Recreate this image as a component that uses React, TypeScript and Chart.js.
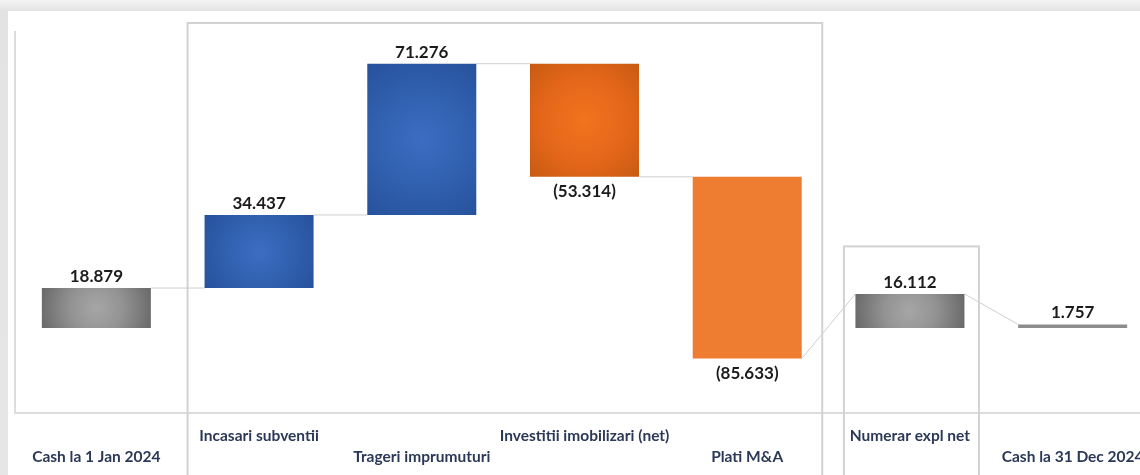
import React, { useEffect, useRef } from 'react';
import { Chart, registerables } from 'chart.js';

Chart.register(...registerables);

// ---- data ----
const categories = [
  'Cash la 1 Jan 2024',
  'Incasari subventii',
  'Trageri imprumuturi',
  'Investitii imobilizari (net)',
  'Plati M&A',
  'Numerar expl net',
  'Cash la 31 Dec 2024',
];
const values = [18.879, 34.437, 71.276, -53.314, -85.633, 16.112, 1.757];
const valueLabels = ['18.879', '34.437', '71.276', '(53.314)', '(85.633)', '16.112', '1.757'];
const barKinds = ['total', 'up', 'up', 'down', 'down', 'net', 'total'];
const yMin = -40;
const yMax = 140;

// ---- styles ----
const barStyles = ['gray', 'blue', 'blue', 'orangeGrad', 'orangeFlat', 'gray', 'grayLine'];
const flatColors: Record<string, string> = {
  gray: '#8a8a8a',
  blue: '#2f5dab',
  orangeGrad: '#e06a1c',
  orangeFlat: '#ee7d31',
  grayLine: '#8c8c8c',
};
const gradStops: Record<string, [number, string][]> = {
  gray: [[0, '#a6a6a6'], [0.45, '#939393'], [1, '#686868']],
  blue: [[0, '#3c6dc2'], [0.55, '#305fae'], [1, '#27519b']],
  orangeGrad: [[0, '#f2741e'], [0.55, '#e4661a'], [1, '#c65b12']],
};
const CAT_PCT = 0.67;
const FONT = 'Lato, "Open Sans", sans-serif';

function buildRanges(): [number, number][] {
  let cum = 0;
  const out: [number, number][] = [];
  values.forEach((v, i) => {
    const k = barKinds[i];
    if (k === 'total') {
      out.push([0, v]);
      cum = v;
    } else if (k === 'net') {
      out.push([0, v]);
      cum = cum + v;
    } else {
      out.push([cum, cum + v]);
      cum = cum + v;
    }
  });
  return out;
}
const ranges = buildRanges();

function barFill(c: any) {
  const i = c.dataIndex;
  const style = barStyles[i];
  const flat = flatColors[style];
  const stops = gradStops[style];
  const chart = c.chart;
  if (!stops || c.type !== 'data' || !chart.chartArea) return flat;
  const xs = chart.scales.x;
  const ys = chart.scales.y;
  if (!xs || !ys) return flat;
  const cx = xs.getPixelForValue(i);
  const [a, b] = ranges[i];
  const y1 = ys.getPixelForValue(Math.max(a, b));
  const y2 = ys.getPixelForValue(Math.min(a, b));
  const cy = (y1 + y2) / 2;
  const half = ((xs.width / categories.length) * CAT_PCT) / 2;
  const hh = (y2 - y1) / 2;
  const r = Math.sqrt(half * half + hh * hh);
  const g = chart.ctx.createRadialGradient(cx, cy, 0, cx, cy, r);
  stops.forEach(([o, col]) => g.addColorStop(o, col));
  return g;
}

const decorPlugin = {
  id: 'decor',
  beforeDatasetsDraw(chart: any) {
    const { ctx, chartArea, scales } = chart;
    const xs = scales.x;
    const ys = scales.y;
    const halfW = ((xs.width / categories.length) * CAT_PCT) / 2;
    ctx.save();
    // plot frame: left + bottom
    ctx.strokeStyle = '#dcdcdc';
    ctx.lineWidth = 2;
    ctx.beginPath();
    ctx.moveTo(chartArea.left, chartArea.top);
    ctx.lineTo(chartArea.left, chartArea.bottom);
    ctx.lineTo(chart.width, chartArea.bottom);
    ctx.stroke();
    // group boxes
    ctx.strokeStyle = '#d2d2d2';
    ctx.lineWidth = 2;
    const b1l = xs.getPixelForValue(1) - halfW - 17;
    const b1r = xs.getPixelForValue(4) + halfW + 20.5;
    ctx.strokeRect(b1l, chartArea.top - 8, b1r - b1l, chart.height);
    const b2l = xs.getPixelForValue(5) - halfW - 11.5;
    const b2r = xs.getPixelForValue(5) + halfW + 14.5;
    const b2t = ys.getPixelForValue(38.5);
    ctx.strokeRect(b2l, b2t, b2r - b2l, chart.height);
    // connectors
    ctx.strokeStyle = '#cfcfcf';
    ctx.lineWidth = 1;
    for (let i = 0; i < categories.length - 1; i++) {
      const exitV = ranges[i][1];
      const nk = barKinds[i + 1];
      const entryV = nk === 'up' || nk === 'down' ? ranges[i + 1][0] : ranges[i + 1][1];
      const x1 = xs.getPixelForValue(i) + halfW;
      const x2 = xs.getPixelForValue(i + 1) - halfW;
      ctx.beginPath();
      ctx.moveTo(x1, ys.getPixelForValue(exitV));
      ctx.lineTo(x2, ys.getPixelForValue(entryV));
      ctx.stroke();
    }
    ctx.restore();
  },
  afterDatasetsDraw(chart: any) {
    const { ctx, scales } = chart;
    const xs = scales.x;
    const ys = scales.y;
    ctx.save();
    ctx.textAlign = 'center';
    ctx.textBaseline = 'middle';
    // value labels
    ctx.fillStyle = '#1b1b1b';
    ctx.font = `bold 17px ${FONT}`;
    for (let i = 0; i < categories.length; i++) {
      const [a, b] = ranges[i];
      const cx = xs.getPixelForValue(i);
      if (barKinds[i] === 'down') {
        ctx.fillText(valueLabels[i], cx, ys.getPixelForValue(Math.min(a, b)) + 15);
      } else {
        ctx.fillText(valueLabels[i], cx, ys.getPixelForValue(Math.max(a, b)) - 11.5);
      }
    }
    // category labels, staggered
    ctx.fillStyle = '#2b3957';
    ctx.font = `bold 15.5px ${FONT}`;
    const base = chart.chartArea.bottom;
    for (let i = 0; i < categories.length; i++) {
      const cx = xs.getPixelForValue(i);
      const y = i % 2 === 1 ? base + 23 : base + 44;
      ctx.fillText(categories[i], cx, y);
    }
    ctx.restore();
  },
};

export default function App() {
  const ref = useRef<HTMLCanvasElement | null>(null);
  useEffect(() => {
    if (!ref.current) return;
    const chart = new Chart(ref.current, {
      type: 'bar',
      data: {
        labels: categories,
        datasets: [
          {
            data: ranges as any,
            backgroundColor: barFill as any,
            borderWidth: 0,
            barPercentage: 1,
            categoryPercentage: CAT_PCT,
          },
        ],
      },
      options: {
        animation: false,
        responsive: false,
        devicePixelRatio: 1,
        layout: { padding: { left: 15, top: 31, right: 6, bottom: 62 } },
        plugins: { legend: { display: false }, tooltip: { enabled: false } },
        scales: {
          x: { display: false },
          y: { display: false, min: yMin, max: yMax },
        },
      },
      plugins: [decorPlugin],
    });
    return () => chart.destroy();
  }, []);

  return (
    <div
      style={{
        position: 'fixed',
        left: 0,
        top: 0,
        width: 1140,
        height: 475,
        overflow: 'hidden',
        background: 'linear-gradient(180deg, #f4f4f4 0px, #e3e3e3 11px, #e6e6e6 100%)',
      }}
    >
      <div
        style={{
          position: 'absolute',
          left: 8,
          top: 11,
          right: 0,
          bottom: 0,
          background: '#ffffff',
        }}
      />
      <canvas
        ref={ref}
        width={1160}
        height={475}
        style={{ position: 'absolute', left: 0, top: 0, width: 1160, height: 475 }}
      />
    </div>
  );
}
